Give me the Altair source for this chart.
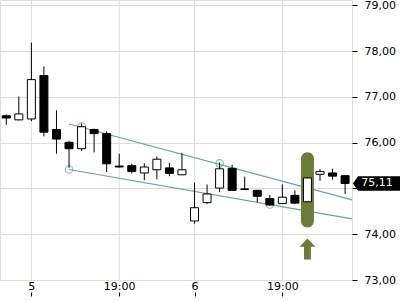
import altair as alt
import pandas as pd

# candle data (index-based x)
idx    = list(range(28))
opens  = [76.59, 76.50, 76.52, 77.47, 76.29, 76.01, 75.87, 76.29, 76.20, 75.49,
          75.50, 75.34, 75.41, 75.45, 75.30, 74.29, 74.69, 75.01, 75.44, 74.99,
          74.96, 74.78, 74.67, 74.85, 74.71, 75.31, 75.34, 75.28]
highs  = [76.62, 77.01, 78.19, 77.67, 76.71, 76.04, 76.42, 76.31, 76.25, 75.76,
          75.54, 75.55, 75.70, 75.56, 75.78, 75.13, 75.09, 75.57, 75.52, 75.26,
          74.96, 74.86, 75.09, 74.96, 75.24, 75.42, 75.43, 75.29]
lows   = [76.39, 76.49, 76.47, 76.14, 75.76, 75.45, 75.82, 75.79, 75.36, 75.46,
          75.33, 75.18, 75.20, 75.27, 75.29, 74.23, 74.66, 74.92, 74.96, 74.98,
          74.70, 74.62, 74.67, 74.67, 74.70, 75.17, 75.19, 74.88]
closes = [76.54, 76.63, 77.38, 76.23, 76.08, 75.87, 76.35, 76.20, 75.54, 75.47,
          75.37, 75.47, 75.64, 75.33, 75.41, 74.58, 74.88, 75.43, 74.96, 74.98,
          74.83, 74.64, 74.81, 74.68, 75.23, 75.37, 75.27, 75.11]

tick_positions = [2, 9, 15, 22]
tick_labels = ["5", "19:00", "6", "19:00"]
y_ticks = [73, 74, 75, 76, 77, 78, 79]
hidden_y_label = 75  # covered by the last-price tag

# trend channel
line_id = ["up", "up", "low", "low"]
line_x = [5, 27.55, 5, 27.55]
line_y = [76.41, 74.75, 75.415, 74.338]
anchor_x = [6, 17, 5, 21]
anchor_y = [76.36, 75.55, 75.415, 74.65]

# highlight
hl_x = [24]
hl_top = [75.79]
hl_bottom = [74.15]
arrow_x = [24]
arrow_y = [73.68]
last_price = [75.11]
tag_x = [29.54]

TEAL = "#5ea6a8"
OLIVE = "#6b7d3b"
FONT = "DejaVu Sans"

candles = pd.DataFrame({"i": idx, "open": opens, "high": highs, "low": lows, "close": closes})
lines = pd.DataFrame({"id": line_id, "x": line_x, "y": line_y})
anchors = pd.DataFrame({"x": anchor_x, "y": anchor_y})
hl = pd.DataFrame({"x": hl_x, "top": hl_top, "bottom": hl_bottom})
arr = pd.DataFrame({"x": arrow_x, "y": arrow_y})
tag = pd.DataFrame({"x": tag_x, "y": last_price,
                    "label": [f"{v:.2f}".replace(".", ",") for v in last_price]})
vgrid = pd.DataFrame({"x": tick_positions})

label_expr = " : ".join(
    f"datum.value == {p} ? '{l}'" for p, l in zip(tick_positions, tick_labels)
) + " : ''"

xscale = alt.Scale(domain=[-0.5, 27.55], nice=False, zero=False, padding=0)
yscale = alt.Scale(domain=[73.0, 79.12], nice=False, zero=False, padding=0)

xaxis = alt.Axis(values=tick_positions, labelExpr=label_expr, grid=False, domain=False,
                 tickSize=4, tickColor="black", offset=12, labelPadding=-16,
                 labelFont=FONT, labelFontSize=11, labelColor="black", title=None, zindex=0)
yaxis = alt.Axis(values=y_ticks, orient="right", grid=True, gridColor="#dddddd",
                 domain=False, tickSize=5, tickColor="black", labelPadding=7,
                 labelExpr=f"datum.value == {hidden_y_label} ? '' : replace(format(datum.value, '.2f'), '.', ',')",
                 labelFont=FONT, labelFontSize=11, labelColor="black", title=None, zindex=0)

X = lambda f: alt.X(f, type="quantitative", scale=xscale, axis=xaxis)
Y = lambda f: alt.Y(f, type="quantitative", scale=yscale, axis=yaxis)

grid_v = alt.Chart(vgrid).mark_rule(color="#dddddd", strokeWidth=1).encode(x=X("x"))

trend = alt.Chart(lines).mark_line(color=TEAL, strokeWidth=1.2).encode(
    x=X("x"), y=Y("y"), detail="id:N")
circles = alt.Chart(anchors).mark_point(shape="circle", filled=False, color=TEAL,
                                        size=56, strokeWidth=1.2).encode(x=X("x"), y=Y("y"))

pill = alt.Chart(hl).mark_bar(size=13, cornerRadius=6.5, color=OLIVE).encode(
    x=X("x"), y=Y("top"), y2="bottom")

arrow_path = "M0,-1 L0.76,-0.2 L0.33,-0.2 L0.33,1 L-0.33,1 L-0.33,-0.2 L-0.76,-0.2 Z"
arrow = alt.Chart(arr).mark_point(shape=arrow_path, filled=True, color=OLIVE,
                                  size=441, opacity=1).encode(x=X("x"), y=Y("y"))

wicks = alt.Chart(candles).mark_rule(color="black", strokeWidth=1).encode(
    x=X("i"), y=Y("low"), y2="high")
bodies = alt.Chart(candles).mark_bar(size=8, stroke="black", strokeWidth=1).encode(
    x=X("i"), y=Y("open"), y2="close",
    fill=alt.condition("datum.close >= datum.open", alt.value("white"), alt.value("black")))

tag_path = "M-1,0 L-0.79,-0.3 L1,-0.3 L1,0.3 L-0.79,0.3 Z"
tag_shape = alt.Chart(tag).mark_point(shape=tag_path, filled=True, color="black",
                                      size=2304, opacity=1, clip=False).encode(x=X("x"), y=Y("y"))
tag_text = alt.Chart(tag).mark_text(color="white", font=FONT, fontSize=11,
                                    align="center", baseline="middle", clip=False).encode(
    x=X("x"), y=Y("y"), text="label:N")

chart = alt.layer(grid_v, trend, circles, pill, arrow, wicks, bodies, tag_shape, tag_text).properties(
    width=352, height=280,
    autosize=alt.AutoSizeParams(type="none"),
    padding={"left": 0, "top": 0, "right": 48, "bottom": 20},
).configure_view(strokeWidth=0).configure(background="white")

chart.save("out.html", embed_options={"renderer": "svg", "actions": False})
